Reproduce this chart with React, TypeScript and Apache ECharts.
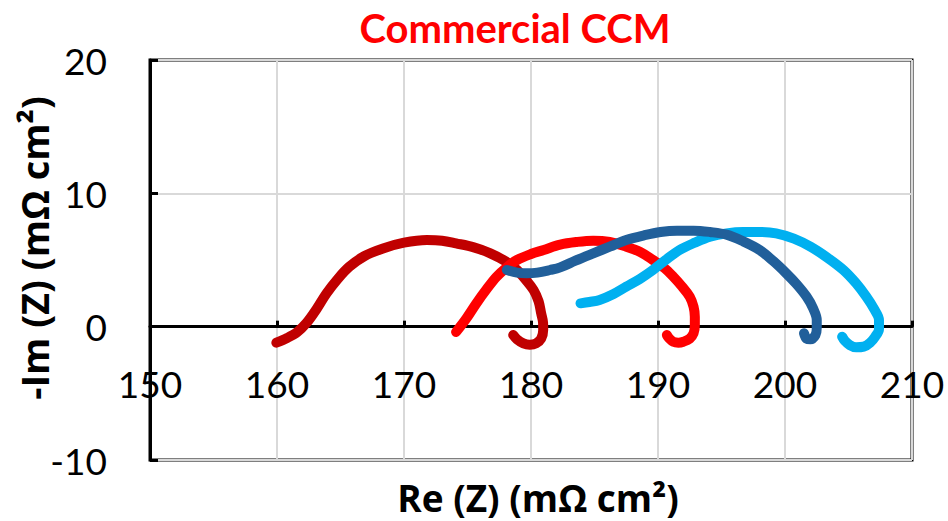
import React, { useEffect, useRef } from "react";
import * as echarts from "echarts";

// Nyquist data: Re(Z) and -Im(Z), mΩ cm²
const reA = [159.95, 160.8, 161.6, 162.3, 163.1, 163.9, 164.8, 165.7, 166.9, 168.35, 170.0, 171.8, 173.0, 174.1, 175.5, 176.8, 178.0, 178.9, 179.6, 180.2, 180.6, 180.8, 180.95, 180.96, 180.8, 180.4, 179.9, 179.4, 178.9, 178.6];
const imA = [-1.2, -0.85, -0.4, 0.25, 1.3, 2.5, 3.6, 4.5, 5.3, 5.87, 6.3, 6.5, 6.45, 6.25, 5.95, 5.5, 4.9, 4.25, 3.5, 2.75, 1.9, 1.0, 0.3, -0.25, -0.9, -1.25, -1.35, -1.25, -0.95, -0.63];

const reB = [174.1, 174.9, 175.7, 176.5, 177.3, 178.1, 178.9, 180.0, 181.0, 182.3, 183.6, 184.9, 186.2, 187.5, 188.6, 189.6, 190.5, 191.2, 191.9, 192.5, 192.8, 192.9, 192.9, 192.8, 192.5, 192.0, 191.6, 191.2, 190.9, 190.7];
const imB = [-0.4, 0.6, 1.75, 2.8, 3.75, 4.45, 5.0, 5.45, 5.75, 6.15, 6.35, 6.45, 6.35, 6.0, 5.6, 5.0, 4.4, 3.75, 3.0, 2.25, 1.5, 0.75, 0.1, -0.5, -0.9, -1.13, -1.2, -1.13, -0.9, -0.63];

const reC = [178.1, 178.9, 179.65, 180.5, 181.5, 182.3, 183.5, 184.9, 186.2, 187.5, 188.9, 190.2, 191.5, 192.8, 194.1, 195.4, 196.7, 198.0, 199.1, 200.1, 200.9, 201.7, 202.2, 202.5, 202.5, 202.4, 202.0, 201.7, 201.5];
const imC = [4.25, 4.05, 4.0, 4.05, 4.25, 4.45, 4.95, 5.5, 6.0, 6.5, 6.85, 7.1, 7.2, 7.2, 7.1, 6.9, 6.4, 5.75, 4.9, 4.0, 3.2, 2.25, 1.4, 0.5, -0.1, -0.63, -0.95, -0.9, -0.5];

const reD = [183.9, 184.6, 185.4, 186.5, 187.5, 188.6, 189.6, 190.6, 191.7, 192.9, 194.1, 195.4, 196.7, 198.0, 199.3, 200.7, 202.0, 203.3, 204.6, 205.6, 206.4, 207.0, 207.4, 207.4, 207.1, 206.7, 206.2, 205.6, 205.1, 204.7, 204.5];
const imD = [1.75, 1.85, 2.0, 2.45, 3.0, 3.6, 4.25, 5.0, 5.75, 6.3, 6.75, 7.0, 7.1, 7.1, 7.0, 6.6, 6.0, 5.2, 4.25, 3.25, 2.25, 1.35, 0.5, -0.2, -0.75, -1.2, -1.5, -1.55, -1.38, -1.05, -0.75];

// drawing order: later series sit on top
const seriesNames = ["A", "B", "D", "C"];
const seriesColors = ["#C00000", "#FF0000", "#00B0F0", "#215F9A"];
const seriesRe = [reA, reB, reD, reC];
const seriesIm = [imA, imB, imD, imC];

const xTicks = { min: 150, max: 210, interval: 10 };
const yTicks = { min: -10, max: 20, interval: 10 };

const chartTitle = "Commercial CCM";
const xTitle = "Re (Z) (mΩ cm²)";
const yTitle = "-Im (Z) (mΩ cm²)";

const FONT = "Lato, 'Open Sans', sans-serif";
const TITLE_FONT = "'Open Sans', Lato, sans-serif";

const GRID = { left: 150, top: 60, width: 762, height: 400 };
// the x axis crosses at -Im(Z) = 0
const xAxisOffset = -GRID.height * (0 - yTicks.min) / (yTicks.max - yTicks.min);

export default function App() {
  const ref = useRef<HTMLDivElement>(null);

  useEffect(() => {
    document.body.style.margin = "0";
    if (!ref.current) return;
    const chart = echarts.init(ref.current, null, { renderer: "svg" });

    const series = seriesNames.map((name, i) => ({
      name,
      type: "line",
      data: seriesRe[i].map((x, k) => [x, seriesIm[i][k]]),
      showSymbol: false,
      symbol: "none",
      smooth: 0.35,
      lineStyle: { color: seriesColors[i], width: 10, cap: "round", join: "round" },
      z: 3 + i,
    }));

    chart.setOption({
      animation: false,
      grid: {
        ...GRID,
        show: true,
        borderColor: "#000",
        borderWidth: 3,
        backgroundColor: "transparent",
      },
      xAxis: {
        type: "value",
        min: xTicks.min,
        max: xTicks.max,
        interval: xTicks.interval,
        offset: xAxisOffset,
        axisLine: { onZero: false, lineStyle: { color: "#000", width: 3 } },
        axisTick: { show: true, inside: true, length: 6, lineStyle: { color: "#000", width: 3 } },
        axisLabel: {
          show: true,
          margin: 38,
          fontSize: 37,
          fontFamily: FONT,
          color: "#000",
          showMinLabel: true,
          showMaxLabel: true,
        },
        splitLine: { show: true, lineStyle: { color: "#D9D9D9", width: 2 } },
      },
      yAxis: {
        type: "value",
        min: yTicks.min,
        max: yTicks.max,
        interval: yTicks.interval,
        axisLine: { show: true, onZero: false, lineStyle: { color: "#000", width: 3 } },
        axisTick: { show: true, inside: true, length: 8, lineStyle: { color: "#000", width: 3 } },
        axisLabel: {
          margin: 43,
          fontSize: 37,
          fontFamily: FONT,
          color: "#000",
        },
        splitLine: { show: true, lineStyle: { color: "#D9D9D9", width: 2 } },
      },
      graphic: [
        {
          type: "text",
          x: 515,
          y: 28,
          style: {
            text: chartTitle,
            fontSize: 40,
            fontWeight: "bold",
            fontFamily: FONT,
            fill: "#FF0000",
            align: "center",
            verticalAlign: "middle",
          },
        },
        {
          type: "text",
          x: 538,
          y: 497,
          style: {
            text: xTitle,
            fontSize: 37,
            fontWeight: "bold",
            fontFamily: TITLE_FONT,
            fill: "#000",
            align: "center",
            verticalAlign: "middle",
          },
        },
        {
          type: "text",
          x: 34,
          y: 248,
          rotation: Math.PI / 2,
          style: {
            text: yTitle,
            fontSize: 38,
            fontWeight: "bold",
            fontFamily: TITLE_FONT,
            fill: "#000",
            align: "center",
            verticalAlign: "middle",
          },
        },
      ],
      series,
    });

    return () => chart.dispose();
  }, []);

  return <div ref={ref} style={{ width: 948, height: 521 }} />;
}
